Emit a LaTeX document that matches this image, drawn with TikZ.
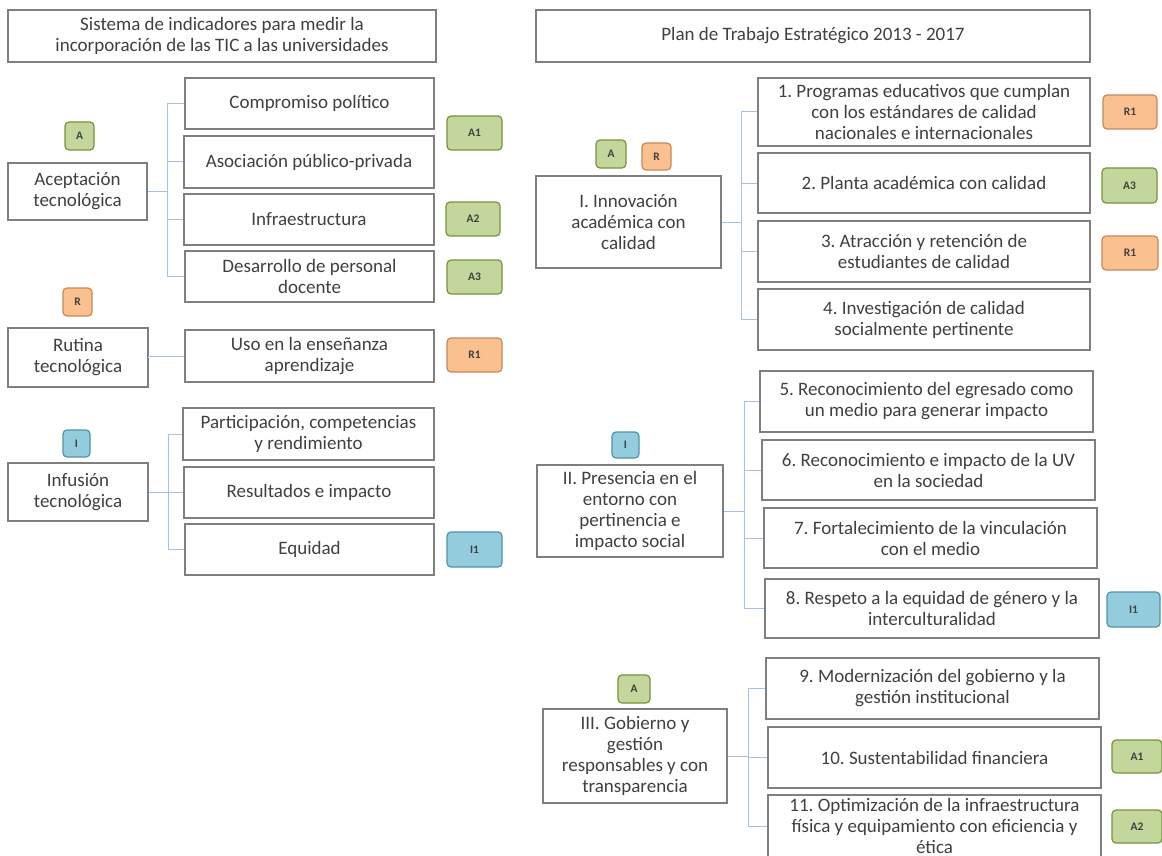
\documentclass[tikz,border=0pt]{standalone}
\usepackage{fontspec}
\setmainfont{Carlito}
\frenchspacing
\definecolor{boxgray}{HTML}{7F7F7F}
\definecolor{txtgray}{HTML}{404040}
\definecolor{connblue}{HTML}{A7C1E6}
\definecolor{gfill}{HTML}{C3D69B}
\definecolor{gdraw}{HTML}{77933C}
\definecolor{ofill}{HTML}{FAC090}
\definecolor{odraw}{HTML}{C9875A}
\definecolor{bfill}{HTML}{93CDDD}
\definecolor{bdraw}{HTML}{4F94A8}
\begin{document}
\begin{tikzpicture}[x=1pt,y=-1pt,
  box/.style={draw=boxgray,line width=1.2pt,fill=white,text=txtgray,align=center,
    inner sep=0pt,font=\fontsize{19}{21}\selectfont},
  badge/.style={rounded corners=4pt,line width=1.2pt,inner sep=0pt,text=txtgray,
    font=\fontsize{11.5}{13}\selectfont\bfseries},
  gb/.style={badge,draw=gdraw,fill=gfill},
  ob/.style={badge,draw=odraw,fill=ofill},
  bb/.style={badge,draw=bdraw,fill=bfill},
  conn/.style={draw=connblue,line width=1pt},
  sz/.style 2 args={minimum width=#1,minimum height=#2}]
\useasboundingbox (0,0) rectangle (1162,856);
\clip (0,0) rectangle (1162,856);
\fill[white] (0,0) rectangle (1162,856);
% ---------- left column ----------
\node[box,sz={428pt}{52pt}] (title1) at (222,36) {Sistema de indicadores para medir la\\incorporación de las TIC a las universidades};
\node[box,sz={139pt}{57pt}] (acept) at (77.5,191.5) {Aceptación\\tecnológica};
\node[box,sz={249pt}{51pt}] (c1) at (309.5,103.5) {Compromiso político};
\node[box,sz={250pt}{52pt}] (c2) at (309,162) {Asociación público-privada};
\node[box,sz={250pt}{51pt}] (c3) at (309,219.5) {Infraestructura};
\node[box,sz={249pt}{51pt}] (c4) at (309.5,276.5) {Desarrollo de personal\\docente};
\node[gb,sz={29pt}{28pt}] (bA) at (79.5,136) {A};
\node[gb,sz={55pt}{34pt}] (bA1) at (474.5,133) {A1};
\node[gb,sz={54pt}{34pt}] (bA2) at (473,219) {A2};
\node[gb,sz={55pt}{34pt}] (bA3) at (474.5,277) {A3};
\coordinate (tA) at (167,191.5);
\draw[conn] (acept.east) -- (tA);
\foreach \n in {c1,c2,c3,c4} \draw[conn] (\n.west) -| (tA);

\node[ob,sz={29pt}{28pt}] (bR) at (77.5,302) {R};
\node[box,sz={140pt}{59pt}] (rutina) at (78,357.5) {Rutina\\tecnológica};
\node[box,sz={249pt}{52pt}] (uso) at (309.5,356) {Uso en la enseñanza\\aprendizaje};
\node[ob,sz={55pt}{34pt}] (bR1) at (474.5,355) {R1};
\draw[conn] (rutina.east) -- (uso.west -| rutina.east) -- (uso.west);

\node[bb,sz={27pt}{27pt}] (bI) at (76.5,443.5) {I};
\node[box,sz={140pt}{58pt}] (infus) at (78,492) {Infusión\\tecnológica};
\node[box,sz={251pt}{52pt}] (p1) at (308.5,434) {Participación, competencias\\y rendimiento};
\node[box,sz={250pt}{51pt}] (p2) at (309,492.5) {Resultados e impacto};
\node[box,sz={249pt}{51pt}] (p3) at (309.5,549.5) {Equidad};
\node[bb,sz={55pt}{35pt}] (bI1) at (474.5,549.5) {I1};
\coordinate (tI) at (168,492);
\draw[conn] (infus.east) -- (tI);
\foreach \n in {p1,p2,p3} \draw[conn] (\n.west) -| (tI);

% ---------- right column ----------
\node[box,sz={554pt}{52pt}] (title2) at (813,36) {Plan de Trabajo Estratégico 2013 - 2017};
\node[box,sz={185pt}{92pt}] (inn) at (628.5,222) {I. Innovación\\académica con\\calidad};
\node[gb,sz={30pt}{28pt}] (bA4) at (611,154) {A};
\node[ob,sz={29pt}{27pt}] (bR2) at (656.5,156.5) {R};
\node[box,sz={332pt}{68pt}] (b1) at (924,112) {1. Programas educativos que cumplan\\con los estándares de calidad\\nacionales e internacionales};
\node[box,sz={332pt}{60pt}] (b2) at (924,183) {2. Planta académica con calidad};
\node[box,sz={332pt}{61pt}] (b3) at (924,251.5) {3. Atracción y retención de\\estudiantes de calidad};
\node[box,sz={332pt}{61pt}] (b4) at (924,319.5) {4. Investigación de calidad\\socialmente pertinente};
\node[ob,sz={54pt}{34pt}] (bR3) at (1130,112) {R1};
\node[gb,sz={55pt}{35pt}] (bA5) at (1129.5,185.5) {A3};
\node[ob,sz={56pt}{34pt}] (bR4) at (1130,253) {R1};
\coordinate (tB) at (741,222);
\draw[conn] (inn.east) -- (tB);
\foreach \n in {b1,b2,b3,b4} \draw[conn] (\n.west) -| (tB);

\node[box,sz={186pt}{92pt}] (pres) at (630,511) {II. Presencia en el\\entorno con\\pertinencia e\\impacto social};
\node[bb,sz={27pt}{26pt}] (bI2) at (625.5,445) {I};
\node[box,sz={333pt}{61pt}] (b5) at (926.5,401.5) {5. Reconocimiento del egresado como\\un medio para generar impacto};
\node[box,sz={333pt}{60pt}] (b6) at (928.5,470) {6. Reconocimiento e impacto de la UV\\en la sociedad};
\node[box,sz={333pt}{60pt}] (b7) at (930.5,538) {7. Fortalecimiento de la vinculación\\con el medio};
\node[box,sz={334pt}{59pt}] (b8) at (932,608.5) {8. Respeto a la equidad de género y la\\interculturalidad};
\node[bb,sz={53pt}{35pt}] (bI3) at (1133.5,609.5) {I1};
\coordinate (tC) at (744,508);
\draw[conn] (pres.east) -- (pres.east -| tC);
\foreach \n in {b5,b6,b7,b8} \draw[conn] (\n.west) -| (tC);

\node[box,sz={184pt}{94pt}] (gob) at (635,756) {III. Gobierno y\\gestión\\responsables y con\\transparencia};
\node[gb,sz={32pt}{28pt}] (bA6) at (634,689) {A};
\node[box,sz={333pt}{61pt}] (b9) at (932.5,688.5) {9. Modernización del gobierno y la\\gestión institucional};
\node[box,sz={333pt}{61pt}] (b10) at (934.5,757.5) {10. Sustentabilidad financiera};
\node[box,sz={333pt}{62pt}] (b11) at (934.5,826) {11. Optimización de la infraestructura\\física y equipamiento con eficiencia y\\ética};
\node[gb,sz={50pt}{33pt}] (bA7) at (1137,756.5) {A1};
\node[gb,sz={50pt}{33pt}] (bA8) at (1137,826.5) {A2};
\coordinate (tD) at (748,760);
\draw[conn] (gob.east) -- (gob.east -| tD);
\foreach \n in {b9,b10,b11} \draw[conn] (\n.west) -| (tD);
\end{tikzpicture}
\end{document}
